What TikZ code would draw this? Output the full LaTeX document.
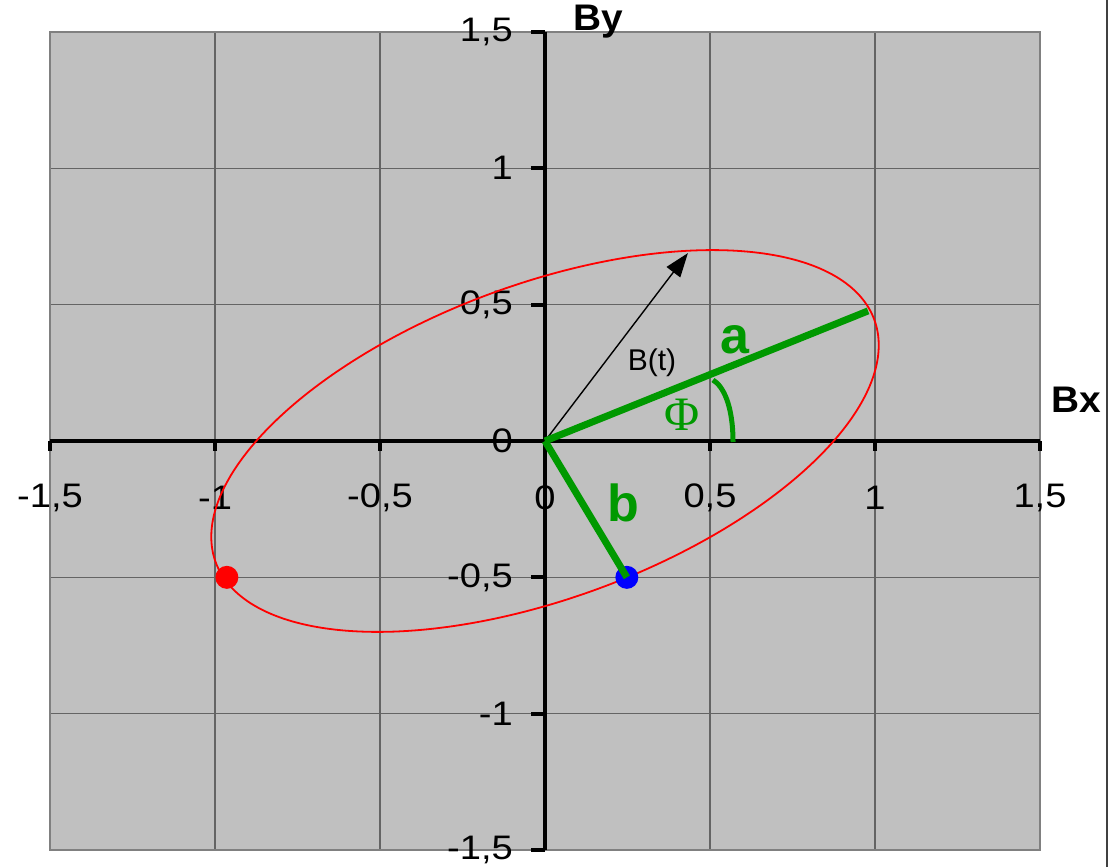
\documentclass[tikz,border=0pt]{standalone}
\usepackage{fontspec}
\setmainfont{Liberation Sans}
\newfontfamily\tickfont[FakeStretch=1.12]{Liberation Sans}
\newfontfamily\titlefont[FakeStretch=1.05]{Liberation Sans}
\newfontfamily\phifont{Liberation Serif}
\usetikzlibrary{arrows.meta}
\definecolor{plotgray}{RGB}{192,192,192}
\definecolor{bordergray}{RGB}{128,128,128}
\definecolor{gridgray}{RGB}{100,100,100}
\definecolor{framegray}{RGB}{64,64,64}
\definecolor{vecgreen}{RGB}{0,153,0}
\begin{document}
\begin{tikzpicture}[x=1pt,y=1pt,
  ticklabel/.style={font=\tickfont\fontsize{34}{34}\selectfont, inner sep=0pt},
  axistitle/.style={font=\titlefont\bfseries\fontsize{37}{37}\selectfont, inner sep=0pt},
  greenlabel/.style={text=vecgreen, font=\bfseries\fontsize{52}{52}\selectfont, inner sep=0pt},
  gridline/.style={gridgray, line width=1.4pt},
  axisline/.style={black, line width=4pt},
  vecline/.style={vecgreen, line width=7pt},
  dot/.style={circle, inner sep=0pt, minimum size=23pt}]
\useasboundingbox (0,0) rectangle (1115,867);
\draw[framegray, line width=2pt] (1107,0) -- (1107,867);
\begin{scope}[shift={(545,426)}, x=330pt, y=272.7pt]
  % plot area
  \fill[plotgray] (-1.5,-1.5) rectangle (1.5,1.5);
  \foreach \v in {-1,-0.5,0.5,1} {
    \draw[gridline] (\v,-1.5) -- (\v,1.5);
    \draw[gridline] (-1.5,\v) -- (1.5,\v);
  }
  \draw[bordergray, line width=2.5pt] (-1.5,-1.5) rectangle (1.5,1.5);
  % axes
  \coordinate (O) at (0,0);
  \coordinate (xl) at (-1.5,0);
  \coordinate (xr) at (1.5,0);
  \coordinate (yb) at (0,-1.5);
  \coordinate (yt) at (0,1.5);
  \draw[axisline] (xl) -- (xr);
  \draw[axisline] (yb) -- (yt);
  \foreach \v/\t [count=\i] in {-1.5/-1{,}5,-1/-1,-0.5/-0{,}5,0/0,0.5/0{,}5,1/1,1.5/1{,}5} {
    \draw[black, line width=4pt] (\v,0) -- ++(0,-10pt);
    \draw[black, line width=4pt] (0,\v) -- ++(-14pt,0);
    \node[ticklabel] (xt\i) at ([yshift=-57pt]\v,0) {\t};
    \node[ticklabel, anchor=east] (yt\i) at ([xshift=-32pt]0,\v) {\t};
  }
  % ellipse
  \draw[red, line width=1.8pt] plot[domain=0:360, samples=144, smooth cycle]
    ({0.98*cos(\x)+0.25*sin(\x)}, {0.49*cos(\x)-0.5*sin(\x)});
  % vectors
  \coordinate (Bt) at (0.433,0.689);
  \coordinate (A) at (0.979,0.477);
  \draw[black, line width=1.4pt, -{Triangle[length=24pt, width=17pt]}] (O) -- (Bt);
  \draw[vecline] (O) -- (A);
  \node[dot, fill=red] (rdot) at (-0.964,-0.5) {};
  \node[dot, fill=blue] (bdot) at (0.248,-0.5) {};
  \draw[vecline] (O) -- (bdot.center);
\end{scope}
% angle arc
\draw[vecgreen, line width=5pt] (713,487) .. controls (723,481) and (733,462) .. (733,425);
% labels
\node[axistitle] (by) at (598,845) {By};
\node[axistitle] (bx) at (1076,467) {Bx};
\node[font=\fontsize{30}{30}\selectfont, inner sep=0pt] (btl) at (652,504) {B(t)};
\node[greenlabel] (al) at (735,527) {a};
\node[greenlabel] (bl) at (623,364) {b};
\node[text=vecgreen, font=\phifont\fontsize{48}{48}\selectfont, inner sep=0pt] (phil) at (682,452) {Φ};
\end{tikzpicture}
\end{document}
